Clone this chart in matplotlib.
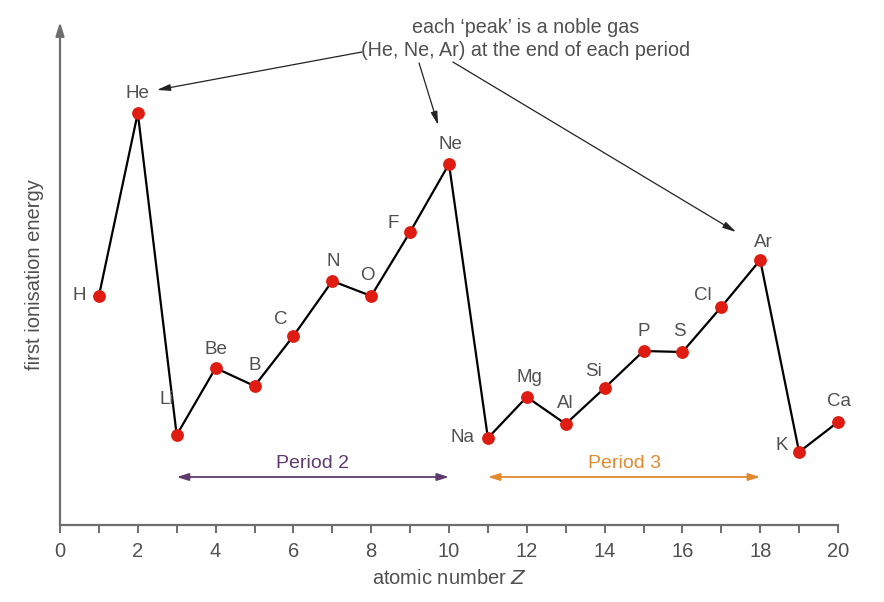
import matplotlib
matplotlib.use("Agg")
import matplotlib.pyplot as plt

# Data (arbitrary energy units, no y scale shown)
elements = ["H", "He", "Li", "Be", "B", "C", "N", "O", "F", "Ne",
            "Na", "Mg", "Al", "Si", "P", "S", "Cl", "Ar", "K", "Ca"]
atomic_number = list(range(1, 21))
energy = [229, 412, 90, 157, 139, 189, 244, 229, 293, 361,
          87, 128, 101, 137, 174, 173, 218, 265, 73, 103]

# label offsets in pixels (dx, dy) relative to each point
label_offsets = {
    "H": (-20, 0), "He": (0, 20), "Li": (-10, 36), "Be": (0, 18),
    "B": (0, 21), "C": (-13, 17), "N": (1, 20), "O": (-4, 20),
    "F": (-17, 9), "Ne": (1, 20), "Na": (-25, 0), "Mg": (3, 20),
    "Al": (0, 20), "Si": (-11, 17), "P": (0, 20), "S": (-3, 20),
    "Cl": (-18, 11), "Ar": (3, 18), "K": (-17, 7), "Ca": (1, 21),
}

grey = "#6e6e6e"
text_grey = "#505050"
plt.rcParams['font.family'] = ['Liberation Sans', 'DejaVu Sans']

fig = plt.figure(figsize=(8.84, 6.02), dpi=100)
ax = fig.add_axes([60 / 884, 1 - 525 / 602, 778 / 884, 503 / 602])

ax.plot(atomic_number, energy, color="black", lw=1.6, zorder=2, clip_on=False)
ax.plot(atomic_number, energy, "o", color="#de1c12", ms=8.2, zorder=3, clip_on=False)

for z, e, name in zip(atomic_number, energy, elements):
    dx, dy = label_offsets[name]
    ax.annotate(name, (z, e), xytext=(dx, dy), textcoords="offset pixels",
                ha="center", va="center", fontsize=13.5, color=text_grey)

ax.set_xlim(0, 20)
ax.set_ylim(0, 503)
for s in ["top", "right", "left"]:
    ax.spines[s].set_visible(False)
ax.spines["bottom"].set_color(grey)
ax.spines["bottom"].set_linewidth(1.6)
ax.set_yticks([])
ax.set_xticks(range(0, 21, 2))
ax.set_xticks(range(1, 21, 2), minor=True)
ax.tick_params(axis="x", which="both", length=6, width=1.4, color=grey,
               labelsize=14.5, labelcolor=text_grey, pad=6)

# y axis drawn as an arrow
ax.annotate("", xy=(0, 1.0), xytext=(0, 0), xycoords="axes fraction",
            arrowprops=dict(arrowstyle="-|>,head_length=0.8,head_width=0.25",
                            color=grey, lw=1.6, shrinkA=0, shrinkB=0))

ax.set_xlabel("atomic number $\\it{Z}$", fontsize=14.5, color=text_grey, labelpad=6)
ax.set_ylabel("first ionisation energy", fontsize=14.5, color=text_grey)
ax.yaxis.set_label_coords(-0.021, (525 - 275) / 503)

# note about noble gases
ax.text(11.98, 486, "each \u2018peak\u2019 is a noble gas\n(He, Ne, Ar) at the end of each period",
        ha="center", va="center", fontsize=14.2, color=text_grey, linespacing=1.25)
note_arrow = dict(arrowstyle="-|>,head_length=0.8,head_width=0.2", color="#222222",
                  lw=0.9, shrinkA=0, shrinkB=0)
ax.annotate("", xy=(2.49, 435), xytext=(7.76, 473), arrowprops=note_arrow)
ax.annotate("", xy=(9.72, 400), xytext=(9.23, 462), arrowprops=note_arrow)
ax.annotate("", xy=(17.38, 293), xytext=(10.1, 463), arrowprops=note_arrow)

# period spans
periods = [("Period 2", 3, 10, "#5e3a6e"), ("Period 3", 11, 18, "#e08a2e")]
for label, start, end, col in periods:
    ax.annotate("", xy=(end, 48), xytext=(start, 48),
                arrowprops=dict(arrowstyle="<|-|>,head_length=0.7,head_width=0.22",
                                color=col, lw=1.3, shrinkA=0, shrinkB=0))
    ax.text((start + end) / 2, 61, label, ha="center", va="center",
            fontsize=14, color=col)

plt.savefig("out.png", dpi=100)
